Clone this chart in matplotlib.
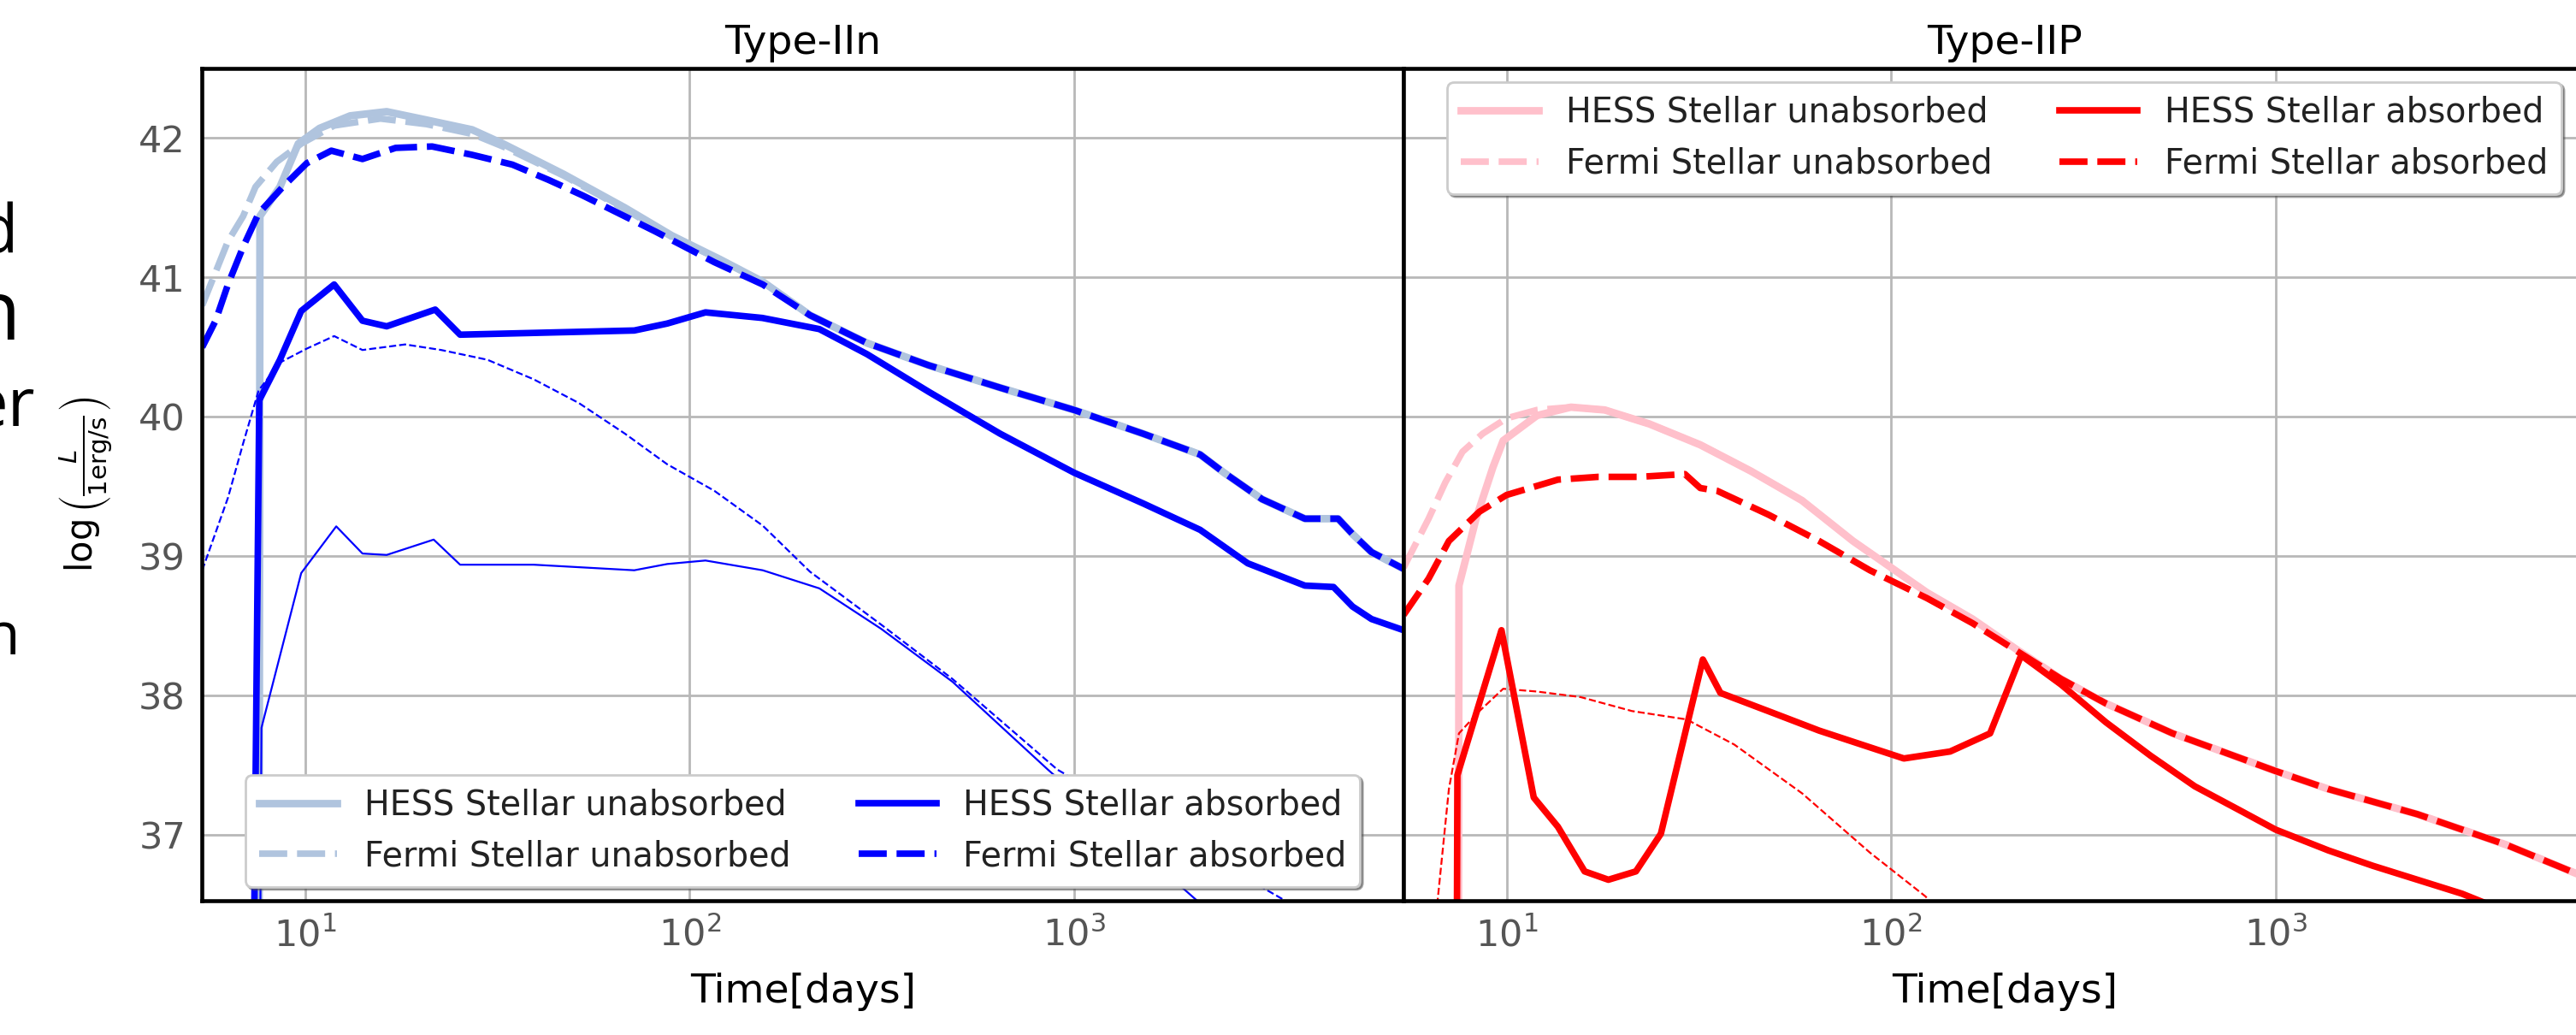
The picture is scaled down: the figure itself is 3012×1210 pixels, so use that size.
import matplotlib
matplotlib.use("Agg")
import matplotlib.pyplot as plt
from matplotlib.ticker import NullLocator

# ---------------- Type-IIn (left panel) ----------------
# common late-time branch (unabsorbed == Fermi absorbed there)
t_iin_tail = [205.6, 289.5, 419, 642, 1000, 1511, 2128, 2455, 3083, 3985, 4863, 5300, 5940, 7200]
L_iin_tail = [40.73, 40.53, 40.37, 40.21, 40.05, 39.88, 39.73, 39.60, 39.41, 39.27, 39.27, 39.16, 39.03, 38.91]

t_iin_hess_unabs = [7.55, 7.63, 8.6, 9.6, 10.9, 13.1, 16.3, 20.7, 27.2, 32.7, 47.1, 67.9, 90, 120, 155]
L_iin_hess_unabs = [30.0, 41.44, 41.65, 41.96, 42.07, 42.16, 42.19, 42.13, 42.06, 41.96, 41.74, 41.50, 41.30, 41.13, 40.97]

t_iin_fermi_unabs = [5.4, 6.3, 6.9, 7.43, 8.44, 9.77, 11.9, 15.7, 20.7, 27.2, 32.7, 47.1, 67.9, 90, 120, 155]
L_iin_fermi_unabs = [40.80, 41.26, 41.44, 41.65, 41.83, 41.96, 42.09, 42.14, 42.10, 42.03, 41.94, 41.73, 41.49, 41.29, 41.13, 40.97]

t_iin_hess_abs = [7.0, 7.6, 8.6, 9.77, 11.9, 14.1, 16.3, 21.8, 25.3, 71.8, 87.5, 110, 154.6, 217.6, 289.5, 419,
                  642, 1000, 1511, 2128, 2830, 3985, 4730, 5300, 5940, 7200]
L_iin_hess_abs = [30.0, 40.12, 40.41, 40.76, 40.95, 40.69, 40.65, 40.77, 40.59, 40.62, 40.67, 40.75, 40.71, 40.63,
                  40.45, 40.18, 39.88, 39.60, 39.38, 39.19, 38.95, 38.79, 38.78, 38.64, 38.55, 38.47]

t_iin_fermi_abs = [5.4, 5.85, 6.3, 6.9, 7.57, 8.75, 10.1, 11.7, 14.1, 17.2, 21.4, 27.2, 34.6, 43, 52.6, 65.5,
                   81.5, 116, 155]
L_iin_fermi_abs = [40.50, 40.69, 40.95, 41.22, 41.46, 41.65, 41.82, 41.91, 41.85, 41.93, 41.94, 41.88, 41.81,
                   41.70, 41.59, 41.46, 41.33, 41.11, 40.95]

# thin curves (not in legend)
t_iin_thin_fermi = [5.4, 6.3, 6.9, 7.57, 8.6, 10.1, 11.9, 14.1, 18.2, 22.6, 29.8, 39.3, 51.5, 67.9, 87.5, 116,
                    155, 205.6, 315, 483, 905, 3700]
L_iin_thin_fermi = [38.90, 39.42, 39.81, 40.19, 40.39, 40.49, 40.58, 40.48, 40.52, 40.48, 40.41, 40.27, 40.10,
                    39.88, 39.66, 39.47, 39.22, 38.89, 38.51, 38.12, 37.47, 36.50]

t_iin_thin_hess = [7.4, 7.7, 9.77, 12.05, 14.1, 16.3, 21.6, 25.3, 39.3, 71.8, 87.5, 110, 155, 217.6, 315, 483,
                   855, 2150]
L_iin_thin_hess = [30.0, 37.77, 38.88, 39.215, 39.02, 39.01, 39.12, 38.94, 38.94, 38.90, 38.945, 38.97, 38.90,
                   38.77, 38.48, 38.10, 37.47, 36.50]

# ---------------- Type-IIP (right panel) ----------------
t_iip_tail = [277, 362, 540, 1000, 1374, 2340, 3990, 6240, 7200]
L_iip_tail = [38.12, 37.945, 37.73, 37.46, 37.33, 37.15, 36.93, 36.71, 36.66]

t_iip_hess_unabs = [7.45, 7.52, 8.33, 9.22, 9.8, 12.0, 14.7, 18.0, 23.5, 31.9, 43.3, 58.7, 79.6, 124, 163, 212.6]
L_iip_hess_unabs = [30.0, 38.79, 39.27, 39.64, 39.83, 40.01, 40.07, 40.05, 39.95, 39.80, 39.61, 39.40, 39.11,
                    38.74, 38.55, 38.33]

t_iip_fermi_unabs = [5.4, 6.27, 6.93, 7.68, 8.67, 10, 12.0, 14.7, 18.0, 23.5, 31.9, 43.3, 58.7, 79.6, 124, 163,
                     212.6]
L_iip_fermi_unabs = [38.92, 39.27, 39.53, 39.75, 39.88, 39.99, 40.05, 40.07, 40.05, 39.95, 39.80, 39.61, 39.40,
                     39.11, 38.74, 38.55, 38.33]

t_iip_hess_abs = [7.3, 7.45, 9.7, 11.77, 13.6, 15.96, 18.4, 21.7, 25.2, 32.4, 36.0, 47.9, 65, 88.1, 108, 142.5,
                  181, 218, 277, 362, 473, 617, 805, 1000, 1374, 1792, 3055, 4000]
L_iip_hess_abs = [30.0, 37.43, 38.47, 37.27, 37.06, 36.74, 36.68, 36.74, 37.01, 38.26, 38.02, 37.89, 37.75, 37.63,
                  37.55, 37.60, 37.73, 38.29, 38.08, 37.81, 37.57, 37.35, 37.18, 37.04, 36.89, 36.78, 36.58, 36.45]

t_iip_fermi_abs = [5.4, 6.27, 7.08, 8.5, 10, 13.6, 17.3, 22.1, 29.1, 31.9, 35.3, 47.9, 65, 88.1, 124, 163, 212.6]
L_iip_fermi_abs = [38.58, 38.84, 39.11, 39.32, 39.44, 39.55, 39.57, 39.57, 39.59, 39.49, 39.47, 39.30, 39.11,
                   38.90, 38.70, 38.52, 38.32]

t_iip_thin_fermi = [6.6, 7.08, 7.52, 8.5, 9.8, 12.0, 15.6, 21.2, 29.4, 39.1, 58.7, 88.1, 123, 130]
L_iip_thin_fermi = [36.50, 37.33, 37.73, 37.89, 38.05, 38.03, 37.99, 37.89, 37.83, 37.65, 37.30, 36.875, 36.56, 36.48]

labels = ["HESS Stellar unabsorbed", "Fermi Stellar unabsorbed",
          "HESS Stellar absorbed", "Fermi Stellar absorbed"]
yticks = [37, 38, 39, 40, 41, 42]

THICK = 5.5
THIN = 1.6
DASH = (4.3, 1.5)


def style_axes(ax, title):
    ax.set_xscale("log")
    ax.set_xlim(5.4, 7200)
    ax.set_ylim(36.53, 42.5)
    ax.set_xticks([10, 100, 1000])
    ax.xaxis.set_minor_locator(NullLocator())
    ax.set_yticks(yticks)
    ax.grid(True, color="#b8b8b8", lw=2)
    ax.set_axisbelow(True)
    for sp in ax.spines.values():
        sp.set_color("black")
        sp.set_linewidth(3.3)
    ax.tick_params(length=0, pad=14, labelsize=31, labelcolor="#555555")
    ax.set_title(title, fontsize=34, pad=12)
    ax.set_xlabel("Time[days]", fontsize=34, labelpad=16)


fig = plt.figure(figsize=(30.12, 12.10), dpi=100)
ax1 = fig.add_axes([0.0785, 0.1298, 0.4664, 0.8041])
ax2 = fig.add_axes([0.5449, 0.1298, 0.4664, 0.8041], sharey=ax1)

# left panel
ax1.plot(t_iin_hess_unabs + t_iin_tail, L_iin_hess_unabs + L_iin_tail, color="lightsteelblue", lw=THICK + 0.8,
         label=labels[0])
ax1.plot(t_iin_fermi_unabs + t_iin_tail, L_iin_fermi_unabs + L_iin_tail, color="lightsteelblue", lw=THICK,
         ls="--", dashes=DASH, label=labels[1])
ax1.plot(t_iin_hess_abs, L_iin_hess_abs, color="blue", lw=THICK, label=labels[2])
ax1.plot(t_iin_fermi_abs + t_iin_tail, L_iin_fermi_abs + L_iin_tail, color="blue", lw=THICK, ls="--",
         dashes=DASH, label=labels[3])
ax1.plot(t_iin_thin_hess, L_iin_thin_hess, color="blue", lw=THIN)
ax1.plot(t_iin_thin_fermi, L_iin_thin_fermi, color="blue", lw=THIN, ls="--")

# right panel
ax2.plot(t_iip_hess_unabs + t_iip_tail, L_iip_hess_unabs + L_iip_tail, color="pink", lw=THICK + 0.8,
         label=labels[0])
ax2.plot(t_iip_fermi_unabs + t_iip_tail, L_iip_fermi_unabs + L_iip_tail, color="pink", lw=THICK, ls="--",
         dashes=DASH, label=labels[1])
ax2.plot(t_iip_hess_abs, L_iip_hess_abs, color="red", lw=THICK, label=labels[2])
ax2.plot(t_iip_fermi_abs + t_iip_tail, L_iip_fermi_abs + L_iip_tail, color="red", lw=THICK, ls="--",
         dashes=DASH, label=labels[3])
ax2.plot(t_iip_thin_fermi, L_iip_thin_fermi, color="red", lw=THIN, ls="--")

style_axes(ax1, "Type-IIn")
style_axes(ax2, "Type-IIP")
ax2.tick_params(labelleft=False)

ax1.set_ylabel(r"$\log\left(\frac{L}{1\mathrm{erg/s}}\right)$", fontsize=30, labelpad=20)

leg_kw = dict(ncol=2, fontsize=28.5, frameon=True, fancybox=True, shadow=True, framealpha=1,
              edgecolor="#cccccc", handlelength=2.3, columnspacing=2.0, borderaxespad=0.4)
for ax, loc in [(ax1, "lower center"), (ax2, "upper center")]:
    leg = ax.legend(loc=loc, **leg_kw)
    leg.get_frame().set_linewidth(2)
    for txt in leg.get_texts():
        txt.set_color("#222222")

# cut-off slide text on the far left
W, H = 3012.0, 1210.0
fig.text(21 / W, 1 - 295 / H, "d", fontsize=56, ha="right", va="baseline", family="Open Sans")
fig.text(24 / W, 1 - 397 / H, "n", fontsize=70, ha="right", va="baseline", family="Open Sans")
fig.text(41 / W, 1 - 498 / H, "er", fontsize=56, ha="right", va="baseline", family="Open Sans")
fig.text(24 / W, 1 - 765 / H, "n", fontsize=50, ha="right", va="baseline", family="Open Sans")
fig.text(4 / W, 1 - 1032 / H, ":", fontsize=50, ha="right", va="baseline", family="Open Sans")

fig.savefig("out.png", dpi=100, facecolor="white")
